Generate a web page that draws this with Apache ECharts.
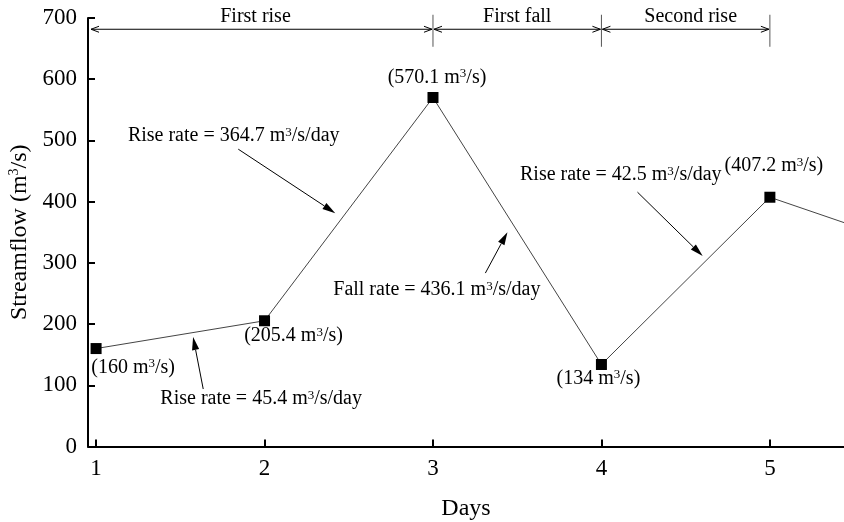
<!DOCTYPE html>
<html>
<head>
<meta charset="utf-8">
<script src="https://cdn.jsdelivr.net/npm/echarts@6/dist/echarts.min.js"></script>
<style>
  html, body { margin: 0; padding: 0; background: #fff; }
  #c { width: 844px; height: 522px; }
</style>
</head>
<body>
<div id="c"></div>
<script>
// Daily streamflow record (m3/s)
const days = [1, 2, 3, 4, 5, 6];
const flow = [160, 205.4, 570.1, 134, 407.2, 313];
const dayTicks = [1, 2, 3, 4, 5];
const flowTicks = [0, 100, 200, 300, 400, 500, 600, 700];

// Phases shown along the top of the plot
const phaseNames = ['First rise', 'First fall', 'Second rise'];
const phaseBounds = [0.964, 3, 4, 5];

// Rate annotations: kind, rate value
const rateKinds = ['Rise', 'Rise', 'Fall', 'Rise'];
const rateValues = ['45.4', '364.7', '436.1', '42.5'];

// Annotation placement in data space (day, flow)
const rateTextAt = [[1.980, 77.6], [1.817, 507], [3.023, 255.5], [4.115, 443.3]];
const rateArrowFrom = [[1.636, 93.9], [1.844, 485.7], [3.311, 283.3], [4.214, 415.5]];
const rateArrowTo = [[1.576, 178.8], [2.42, 381.2], [3.442, 350.2], [4.601, 311]];
const pointLabelOffsets = [[37, 19], [29, 15], [4, -20], [-3, 14], [4, -31]];

const FONT = '"Liberation Serif", "Times New Roman", serif';
const supRich = { sup: { fontSize: 13, fontFamily: FONT, color: '#000', verticalAlign: 'top', lineHeight: 15 } };

const chart = echarts.init(document.getElementById('c'), null, { renderer: 'canvas' });

const option = {
  animation: false,
  backgroundColor: '#fff',
  grid: { left: 88, right: 0, top: 18, bottom: 75.5, containLabel: false, outerBoundsMode: 'none' },
  xAxis: {
    type: 'value',
    min: 0.952,
    max: 5.44,
    name: 'Days',
    nameLocation: 'middle',
    nameGap: 50,
    nameTextStyle: { fontFamily: FONT, fontSize: 24, color: '#000' },
    axisLine: { show: true, lineStyle: { color: '#000', width: 2 } },
    axisTick: { show: true, inside: true, length: 7, lineStyle: { color: '#000', width: 2 }, customValues: dayTicks },
    axisLabel: { fontFamily: FONT, fontSize: 23, color: '#000', margin: 11, customValues: dayTicks },
    splitLine: { show: false }
  },
  yAxis: {
    type: 'value',
    min: 0,
    max: 700,
    interval: 100,
    name: 'Streamflow (m{sup|3}/s)',
    nameLocation: 'middle',
    nameGap: 52,
    nameTextStyle: {
      fontFamily: FONT, fontSize: 24, color: '#000',
      rich: { sup: { fontSize: 14, fontFamily: FONT, color: '#000', verticalAlign: 'top', lineHeight: 17 } }
    },
    axisLine: { show: true, lineStyle: { color: '#000', width: 2 } },
    axisTick: { show: true, inside: true, length: 7, lineStyle: { color: '#000', width: 2 } },
    axisLabel: {
      fontFamily: FONT, fontSize: 23, color: '#000', margin: 11,
      customValues: flowTicks
    },
    splitLine: { show: false }
  },
  series: [{
    type: 'line',
    clip: true,
    symbolSize: 11,
    itemStyle: { color: '#000' },
    lineStyle: { color: '#444', width: 1 },
    label: {
      show: true,
      position: 'inside',
      fontFamily: FONT,
      fontSize: 20,
      color: '#000',
      formatter: p => '(' + flow[p.dataIndex] + ' m{sup|3}/s)',
      rich: supRich
    },
    data: days.map((d, i) => ({
      value: [d, flow[i]],
      symbol: i < pointLabelOffsets.length ? 'rect' : 'none',
      label: i < pointLabelOffsets.length
        ? { show: true, offset: pointLabelOffsets[i] }
        : { show: false }
    }))
  }]
};

chart.setOption(option);

// Overlay annotations, placed through the grid's coordinate system
const px = (x, y) => chart.convertToPixel({ gridIndex: 0 }, [x, y]);
const graphics = [];

function filledArrow(from, to) {
  const a = px(from[0], from[1]);
  const b = px(to[0], to[1]);
  const dx = b[0] - a[0], dy = b[1] - a[1];
  const len = Math.hypot(dx, dy);
  const ux = dx / len, uy = dy / len;
  const hl = 13, hw = 3.6;
  const bx = b[0] - ux * hl, by = b[1] - uy * hl;
  graphics.push({
    type: 'line', silent: true,
    shape: { x1: a[0], y1: a[1], x2: bx, y2: by },
    style: { stroke: '#000', lineWidth: 1 }
  });
  graphics.push({
    type: 'polygon', silent: true,
    shape: { points: [[b[0], b[1]], [bx - uy * hw, by + ux * hw], [bx + uy * hw, by - ux * hw]] },
    style: { fill: '#000' }
  });
}

function openHead(tip, dir) {
  // dir: +1 points right, -1 points left
  const hl = 8, hw = 3;
  graphics.push({
    type: 'polyline', silent: true,
    shape: { points: [[tip[0] - dir * hl, tip[1] - hw], [tip[0], tip[1]], [tip[0] - dir * hl, tip[1] + hw]] },
    style: { stroke: '#000', lineWidth: 1, fill: null }
  });
}

// Phase brackets along the top
const phaseY = 681.6;
for (let i = 0; i < phaseNames.length; i++) {
  const l = px(phaseBounds[i], phaseY);
  const r = px(phaseBounds[i + 1], phaseY);
  graphics.push({
    type: 'line', silent: true,
    shape: { x1: l[0] + 1, y1: l[1], x2: r[0] - 1, y2: r[1] },
    style: { stroke: '#000', lineWidth: 1 }
  });
  openHead([l[0] + 1, l[1]], -1);
  openHead([r[0] - 1, r[1]], 1);
  const t = px((phaseBounds[i] + phaseBounds[i + 1]) / 2, 702.8);
  graphics.push({
    type: 'text', silent: true,
    x: t[0] - (i === 0 ? 6 : 0) + (i === 2 ? 5 : 0), y: t[1],
    style: { text: phaseNames[i], font: '20px ' + FONT, fill: '#000', align: 'center', verticalAlign: 'middle' }
  });
}
for (let i = 1; i < phaseBounds.length; i++) {
  const top = px(phaseBounds[i], 705.3);
  const bot = px(phaseBounds[i], 653);
  graphics.push({
    type: 'line', silent: true,
    shape: { x1: top[0], y1: top[1], x2: bot[0], y2: bot[1] },
    style: { stroke: '#555', lineWidth: 1 }
  });
}

// Rate annotations with pointer arrows
for (let i = 0; i < rateKinds.length; i++) {
  const p = px(rateTextAt[i][0], rateTextAt[i][1]);
  graphics.push({
    type: 'text', silent: true,
    x: p[0], y: p[1],
    style: {
      text: rateKinds[i] + ' rate = ' + rateValues[i] + ' m{sup|3}/s/day',
      font: '20px ' + FONT, fill: '#000', align: 'center', verticalAlign: 'middle',
      rich: supRich
    }
  });
  filledArrow(rateArrowFrom[i], rateArrowTo[i]);
}

chart.setOption({ graphic: graphics });
</script>
</body>
</html>
